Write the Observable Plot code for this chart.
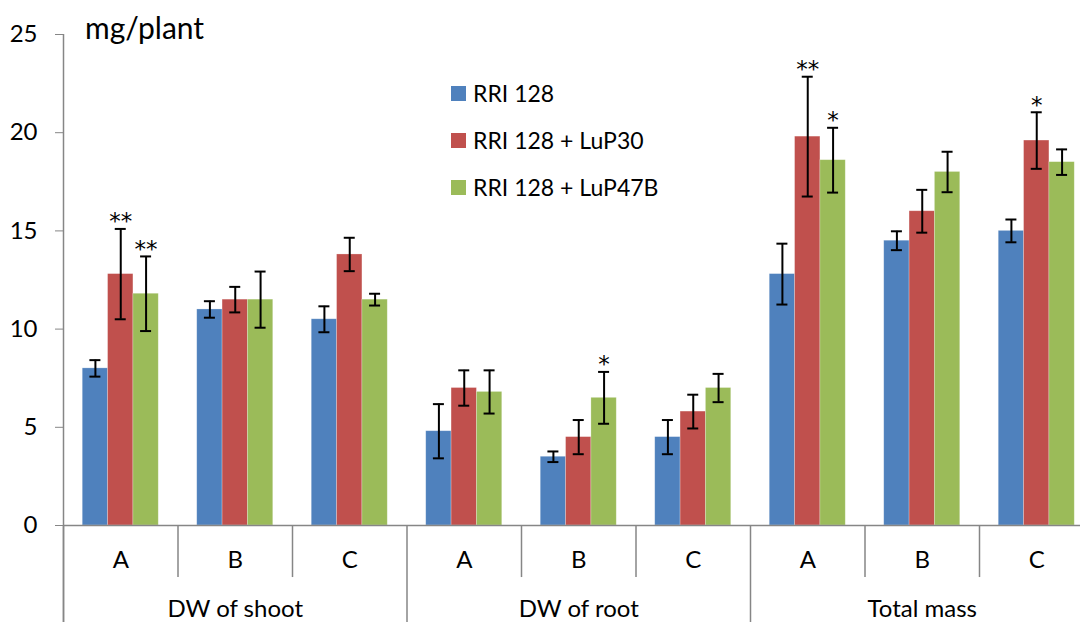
<!DOCTYPE html>
<html>
<head>
<meta charset="utf-8">
<script src="https://cdn.jsdelivr.net/npm/d3@7"></script>
<script src="https://cdn.jsdelivr.net/npm/@observablehq/plot@0.6"></script>
<style>
  html, body { margin: 0; padding: 0; background: #fff; overflow: hidden; }
  #wrap { position: relative; width: 1080px; height: 622px; font-family: Lato, "Open Sans", sans-serif; }
  #wrap svg { overflow: hidden; }
  #unit { position: absolute; left: 85px; top: 9px; font-size: 30px; color: #000; }
  #legend { position: absolute; left: 451px; top: 79px; font-size: 23px; color: #000; }
  .row { display: flex; align-items: center; height: 28px; margin-bottom: 19px; }
  .sw { width: 15px; height: 15px; margin-right: 7px; }
</style>
</head>
<body>
<div id="wrap"></div>
<script>
// ---- data ----
const groups = ["DW of shoot", "DW of root", "Total mass"];
const subgroups = ["A", "B", "C"];
const series = ["RRI 128", "RRI 128 + LuP30", "RRI 128 + LuP47B"];
const colors = ["#4F81BD", "#C0504D", "#9BBB59"];

const rri      = [8.0, 11.0, 10.5, 4.8, 3.5, 4.5, 12.8, 14.5, 15.0];
const rriErr   = [0.42, 0.42, 0.66, 1.38, 0.27, 0.87, 1.55, 0.48, 0.58];
const rriSig   = ["", "", "", "", "", "", "", "", ""];

const lup30    = [12.8, 11.5, 13.8, 7.0, 4.5, 5.8, 19.8, 16.0, 19.6];
const lup30Err = [2.3, 0.65, 0.85, 0.9, 0.87, 0.86, 3.05, 1.09, 1.44];
const lup30Sig = ["**", "", "", "", "", "", "**", "", "*"];

const lup47    = [11.8, 11.5, 11.5, 6.8, 6.5, 7.0, 18.6, 18.0, 18.5];
const lup47Err = [1.9, 1.43, 0.3, 1.1, 1.32, 0.72, 1.65, 1.03, 0.65];
const lup47Sig = ["**", "", "", "", "*", "", "*", "", ""];

const yTicks = [0, 5, 10, 15, 20, 25];

// ---- table ----
const values = [rri, lup30, lup47];
const errs = [rriErr, lup30Err, lup47Err];
const sigs = [rriSig, lup30Sig, lup47Sig];

const cats = [];
groups.forEach((g, gi) => subgroups.forEach((s, si) => cats.push({group: g, sub: s, i: gi * subgroups.length + si})));

const gap = 0.168, bw = 0.2213;
const rows = [];
cats.forEach(c => series.forEach((s, k) => {
  const x1 = c.i + gap + k * bw;
  rows.push({cat: c, series: s, x1, x2: x1 + bw, xc: x1 + bw / 2,
             value: values[k][c.i], err: errs[k][c.i], sig: sigs[k][c.i]});
}));

const nCats = cats.length;
const catW = 114.5;
const grey = "#868686";
const subDividers = cats.filter(c => c.i % subgroups.length !== 0).map(c => c.i);
const grpDividers = groups.map((g, gi) => gi * subgroups.length).concat([nCats]);
const grpCenters = groups.map((g, gi) => ({g, x: gi * subgroups.length + subgroups.length / 2}));
const capHalf = 5.5 / catW;

const chart = Plot.plot({
  width: 1080,
  height: 622,
  marginTop: 34,
  marginBottom: 97,
  marginLeft: 63,
  marginRight: 0,
  style: {fontFamily: "Lato, 'Open Sans', sans-serif", fontSize: "23px", background: "#fff"},
  x: {type: "linear", domain: [0, nCats], range: [63, 63 + nCats * catW], axis: null},
  y: {domain: [0, 25], axis: null},
  color: {domain: series, range: colors},
  marks: [
    Plot.rectY(rows, {x1: "x1", x2: "x2", y: "value", fill: "series", stroke: "#fff", strokeOpacity: 0.35, strokeWidth: 0.7}),
    Plot.ruleX(rows, {x: "xc", y1: d => d.value - d.err, y2: d => d.value + d.err, stroke: "#000", strokeWidth: 2}),
    Plot.ruleY(rows, {y: d => d.value + d.err, x1: d => d.xc - capHalf, x2: d => d.xc + capHalf, stroke: "#000", strokeWidth: 2}),
    Plot.ruleY(rows, {y: d => d.value - d.err, x1: d => d.xc - capHalf, x2: d => d.xc + capHalf, stroke: "#000", strokeWidth: 2}),
    Plot.text(rows.filter(d => d.sig), {x: "xc", y: d => d.value + d.err, text: "sig", dy: -7, lineAnchor: "middle", fontSize: 23, fontFamily: "DejaVu Sans", fill: "#000"}),
    // axes
    Plot.ruleY([0], {x1: 0, x2: nCats, stroke: grey, strokeWidth: 1.5}),
    Plot.ruleX([0], {y1: -5, y2: 25, stroke: grey, strokeWidth: 1.5}),
    Plot.axisY({ticks: yTicks, tickSize: 8, tickPadding: 18, stroke: grey, fill: "#000", fontSize: 24, label: null}),
    Plot.ruleX(subDividers, {x: d => d, y1: 0, y2: -2.65, stroke: grey, strokeWidth: 1.5}),
    Plot.ruleX(grpDividers, {x: d => d, y1: 0, y2: -5, stroke: grey, strokeWidth: 1.5}),
    Plot.text(cats, {x: d => d.i + 0.5, text: "sub", frameAnchor: "bottom", dy: 35, lineAnchor: "middle", fill: "#000", fontSize: 24}),
    Plot.text(grpCenters, {x: "x", text: "g", frameAnchor: "bottom", dy: 84, lineAnchor: "middle", fill: "#000", fontSize: 24})
  ]
});

const wrap = document.getElementById("wrap");
wrap.appendChild(chart);

const unit = document.createElement("div");
unit.id = "unit";
unit.textContent = "mg/plant";
wrap.appendChild(unit);

const legend = document.createElement("div");
legend.id = "legend";
series.forEach((s, k) => {
  const row = document.createElement("div");
  row.className = "row";
  const sw = document.createElement("div");
  sw.className = "sw";
  sw.style.background = colors[k];
  const t = document.createElement("span");
  t.textContent = s;
  row.appendChild(sw);
  row.appendChild(t);
  legend.appendChild(row);
});
wrap.appendChild(legend);
</script>
</body>
</html>
